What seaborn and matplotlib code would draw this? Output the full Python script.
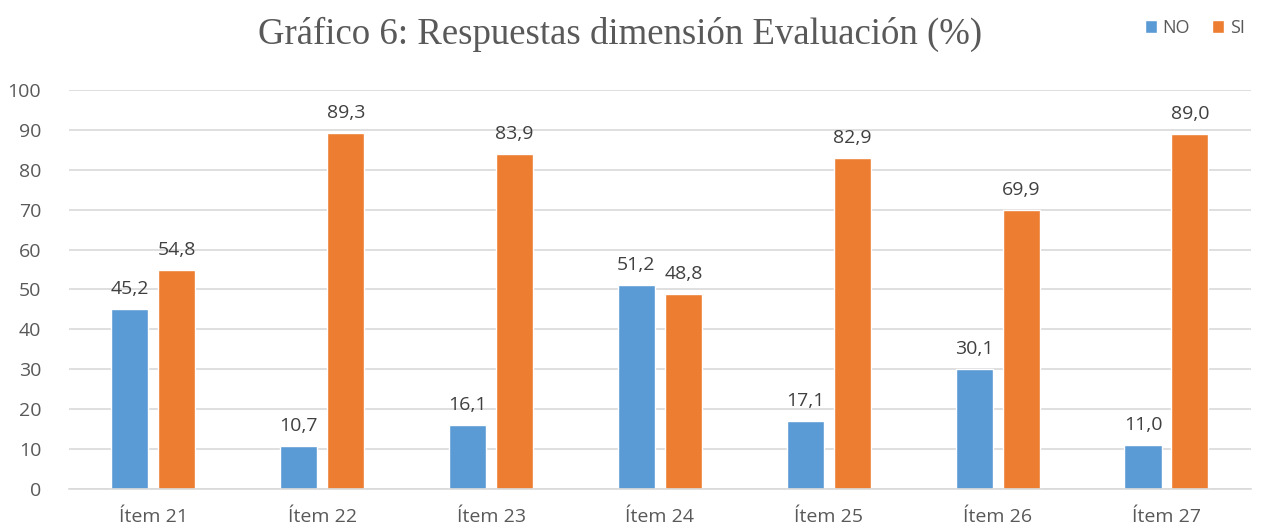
import matplotlib
matplotlib.use("Agg")
import matplotlib.pyplot as plt
import seaborn as sns
import pandas as pd
from matplotlib.patches import Patch

items = ["Ítem 21", "Ítem 22", "Ítem 23", "Ítem 24", "Ítem 25", "Ítem 26", "Ítem 27"]
no_vals = [45.2, 10.7, 16.1, 51.2, 17.1, 30.1, 11.0]
si_vals = [54.8, 89.3, 83.9, 48.8, 82.9, 69.9, 89.0]
series = ["NO", "SI"]
colors = ["#5B9BD5", "#ED7D31"]
yticks = [0, 10, 20, 30, 40, 50, 60, 70, 80, 90, 100]

df = pd.DataFrame({
    "item": items * 2,
    "serie": ["NO"] * len(items) + ["SI"] * len(items),
    "valor": no_vals + si_vals,
})

sns.set_theme(style="white")
plt.rcParams["font.family"] = ["Open Sans", "DejaVu Sans"]

fig = plt.figure(figsize=(12.61, 5.29), dpi=100)
ax = fig.add_axes([0.0547, 0.0756, 0.9373, 0.7543])

sns.barplot(data=df, x="item", y="valor", hue="serie", hue_order=series,
            palette=colors, width=0.556, gap=0.21, ax=ax, saturation=1,
            legend=False)

for cont in ax.containers:
    ax.bar_label(cont, labels=[f"{v:.1f}".replace(".", ",") for v in cont.datavalues],
                 padding=8, fontsize=14, color="#404040")

ax.set_ylim(0, 100)
ax.set_yticks(yticks)
ax.set_xlim(-0.5, len(items) - 0.5)
ax.yaxis.grid(True, color="#D9D9D9", linewidth=1.2)
ax.set_axisbelow(True)
for s in ["top", "right", "left"]:
    ax.spines[s].set_visible(False)
ax.spines["bottom"].set_color("#D9D9D9")
ax.spines["bottom"].set_linewidth(1.2)
ax.tick_params(axis="both", length=0, labelsize=14, colors="#595959")
ax.tick_params(axis="x", pad=14)
ax.tick_params(axis="y", pad=20)
ax.set_xlabel("")
ax.set_ylabel("")

fig.text(0.492, 0.935, "Gráfico 6: Respuestas dimensión Evaluación (%)",
         ha="center", va="center", fontsize=26.5, family="Liberation Serif", color="#595959")

handles = [Patch(facecolor=c, label=s) for c, s in zip(colors, series)]
leg = fig.legend(handles=handles, loc="center right", bbox_to_anchor=(1.0, 0.947),
                 ncol=2, frameon=False, fontsize=13, handlelength=0.7, handleheight=0.7,
                 handletextpad=0.3, columnspacing=1.2)
for t in leg.get_texts():
    t.set_color("#595959")

fig.savefig("out.png", dpi=100)
